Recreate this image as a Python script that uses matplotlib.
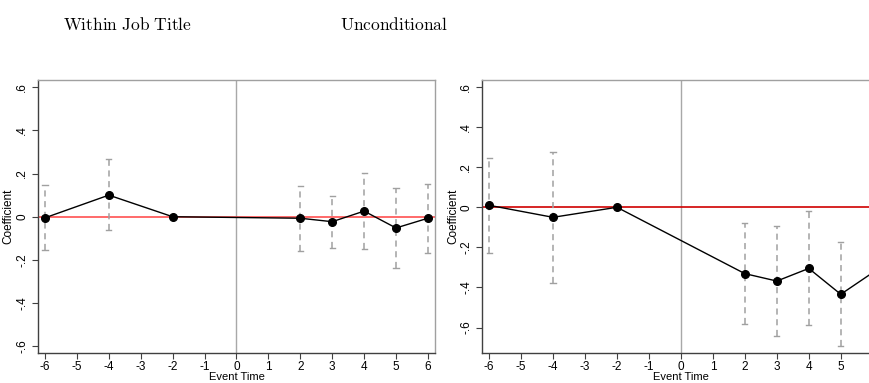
import matplotlib
matplotlib.use("Agg")
import matplotlib.pyplot as plt

plt.rcParams["font.family"] = ["Liberation Sans", "DejaVu Sans"]
plt.rcParams["mathtext.fontset"] = "cm"

# event study coefficients and 95% bounds
event_time = [-6, -4, -2, 2, 3, 4, 5, 6]

within_coef = [-0.005, 0.100, 0.0, -0.007, -0.023, 0.026, -0.052, -0.007]
within_hi = [0.147, 0.266, None, 0.144, 0.097, 0.202, 0.133, 0.153]
within_lo = [-0.154, -0.063, None, -0.157, -0.143, -0.151, -0.237, -0.167]

uncond_coef = [0.010, -0.050, 0.0, -0.331, -0.368, -0.305, -0.434, -0.326]
uncond_hi = [0.247, 0.277, None, -0.078, -0.095, -0.018, -0.175, -0.05]
uncond_lo = [-0.226, -0.378, None, -0.584, -0.642, -0.589, -0.693, -0.60]

xticks = [-6, -5, -4, -3, -2, -1, 0, 1, 2, 3, 4, 5, 6]
yticks = [-0.6, -0.4, -0.2, 0, 0.2, 0.4, 0.6]
ytick_labels = ["-.6", "-.4", "-.2", "0", ".2", ".4", ".6"]


def draw_panel(ax, coef, hi, lo, zero_color, ylim, xlabels):
    ax.axvline(0, color="#a8a8a8", lw=1.0, zorder=1)
    ax.axhline(0, color=zero_color, lw=1.2, zorder=2)
    for x, h, l in zip(event_time, hi, lo):
        if h is None:
            continue
        ax.plot([x, x], [l, h], color="#a0a0a0", lw=1.1, ls=(0, (4, 3)), zorder=3)
        ax.plot([x - 0.08, x + 0.08], [h, h], color="#a0a0a0", lw=1.0, zorder=3)
        ax.plot([x - 0.08, x + 0.08], [l, l], color="#a0a0a0", lw=1.0, zorder=3)
    ax.plot(event_time, coef, color="black", lw=1.0, marker="o", ms=5.5, zorder=4)

    ax.set_xlim(-6.22, 6.22)
    ax.set_ylim(*ylim)
    ax.set_xticks(xticks)
    ax.set_xticklabels(xlabels)
    ax.set_yticks(yticks)
    ax.set_yticklabels(ytick_labels, rotation=90, va="center")
    ax.tick_params(direction="out", length=4, width=0.8, color="#404040",
                   labelsize=8.5)
    ax.tick_params(axis="x", pad=1.5)
    ax.tick_params(axis="y", pad=3)
    ax.set_xlabel("Event Time", fontsize=8, labelpad=-0.5)
    ax.set_ylabel("Coefficient", fontsize=8.5, labelpad=1)
    for side in ["left", "bottom"]:
        ax.spines[side].set_color("#404040")
        ax.spines[side].set_linewidth(1.0)
    for side in ["top", "right"]:
        ax.spines[side].set_color("#a0a0a0")
        ax.spines[side].set_linewidth(1.0)


fig = plt.figure(figsize=(8.69, 3.83), dpi=100)

ax1 = fig.add_axes([0.0437, 0.0783, 0.4568, 0.7128])
draw_panel(ax1, within_coef, within_hi, within_lo, "#ff5050", (-0.631, 0.633),
           [str(t) for t in xticks])

# right panel runs past the page edge, so its last tick label is not shown
ax2 = fig.add_axes([0.5547, 0.0783, 0.4577, 0.7128])
draw_panel(ax2, uncond_coef, uncond_hi, uncond_lo, "#d00000", (-0.727, 0.635),
           [str(t) for t in xticks[:-1]] + [""])

fig.text(127 / 869, 1 - 24 / 383, r"$\mathrm{Within\ Job\ Title}$",
         ha="center", va="center", fontsize=12.5)
fig.text(394 / 869, 1 - 24 / 383, r"$\mathrm{Unconditional}$",
         ha="center", va="center", fontsize=12.5)

fig.savefig("out.png", dpi=100)
